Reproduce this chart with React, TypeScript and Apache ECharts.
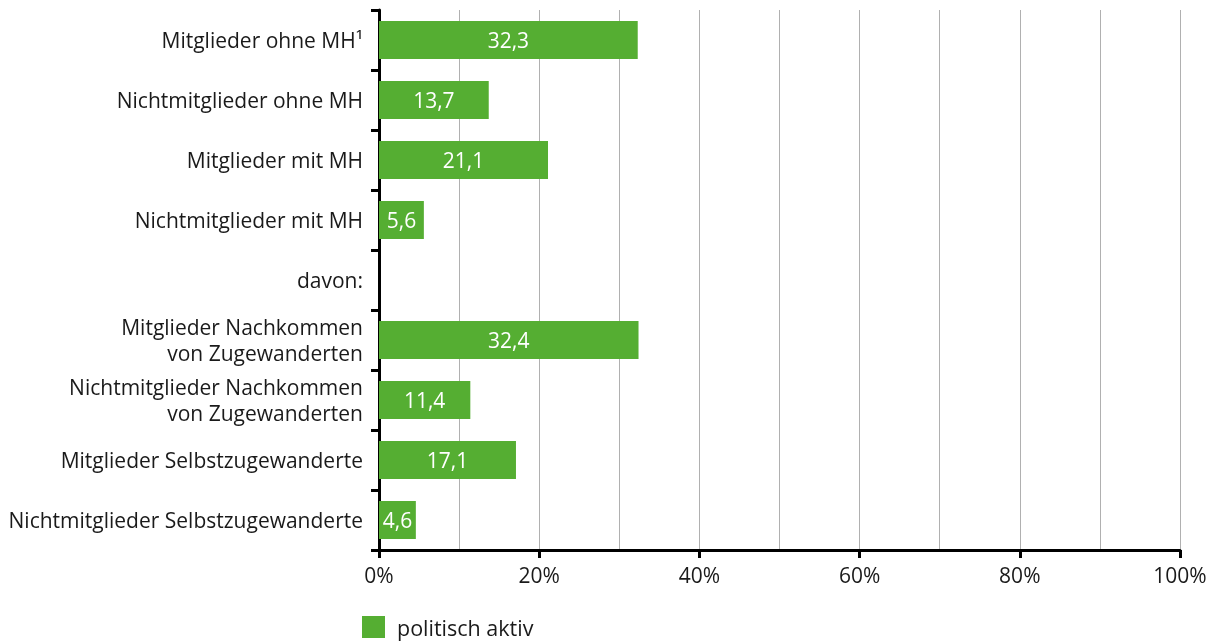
import React, { useEffect, useRef } from "react";
import * as echarts from "echarts";

// Categories from top to bottom
const categories: string[] = [
  "Mitglieder ohne MH¹",
  "Nichtmitglieder ohne MH",
  "Mitglieder mit MH",
  "Nichtmitglieder mit MH",
  "davon:",
  "Mitglieder Nachkommen\nvon Zugewanderten",
  "Nichtmitglieder Nachkommen\nvon Zugewanderten",
  "Mitglieder Selbstzugewanderte",
  "Nichtmitglieder Selbstzugewanderte",
];

// Share of politically active persons in percent (null = heading row)
const politischAktiv: (number | null)[] = [32.3, 13.7, 21.1, 5.6, null, 32.4, 11.4, 17.1, 4.6];

const xTicks: number[] = [0, 20, 40, 60, 80, 100];

const FONT = "'Open Sans', sans-serif";
const GREEN = "#55ae32";
const TEXT = "#1a1a1a";

export default function App() {
  const ref = useRef<HTMLDivElement>(null);

  useEffect(() => {
    if (!ref.current) return;
    const chart = echarts.init(ref.current, null, { renderer: "svg" });
    chart.setOption({
      animation: false,
      textStyle: { fontFamily: FONT },
      grid: { left: 379, right: 34, top: 10, bottom: 91, containLabel: false },
      legend: {
        bottom: 3,
        left: 362,
        padding: 0,
        itemWidth: 23,
        itemHeight: 22,
        itemGap: 11,
        icon: "rect",
        textStyle: {
          fontSize: 21.5,
          color: TEXT,
          fontFamily: FONT,
          padding: [3, 0, 0, 7],
        },
        data: ["politisch aktiv"],
      },
      xAxis: {
        type: "value",
        min: xTicks[0],
        max: xTicks[xTicks.length - 1],
        interval: 20,
        axisLine: { show: true, lineStyle: { color: "#000", width: 3 } },
        axisTick: { show: true, length: 8, lineStyle: { color: "#000", width: 3 } },
        axisLabel: {
          fontSize: 21,
          color: TEXT,
          margin: 14,
          formatter: (v: number) => `${v}%`,
        },
        splitLine: { show: true, lineStyle: { color: "#b0b0b0", width: 1 } },
        minorTick: { show: false, splitNumber: 2 },
        minorSplitLine: { show: true, lineStyle: { color: "#b0b0b0", width: 1 } },
      },
      yAxis: {
        type: "category",
        inverse: true,
        data: categories,
        axisLine: { show: true, lineStyle: { color: "#000", width: 3 } },
        axisTick: { show: true, length: 8, lineStyle: { color: "#000", width: 3 } },
        axisLabel: {
          fontSize: 21,
          color: TEXT,
          margin: 16,
          lineHeight: 26,
          align: "right",
          padding: [0, 0, -2, 0],
        },
      },
      series: [
        {
          name: "politisch aktiv",
          type: "bar",
          data: politischAktiv.map((v) => (v === null ? "-" : v)),
          barWidth: 38,
          itemStyle: { color: GREEN },
          label: {
            show: true,
            position: "inside",
            color: "#fff",
            fontSize: 21,
            fontFamily: FONT,
            formatter: (p: any) => String(p.value).replace(".", ","),
          },
        },
      ],
    });
    return () => chart.dispose();
  }, []);

  return (
    <div
      ref={ref}
      style={{ position: "fixed", left: 0, top: 0, width: 1214, height: 641 }}
    />
  );
}
